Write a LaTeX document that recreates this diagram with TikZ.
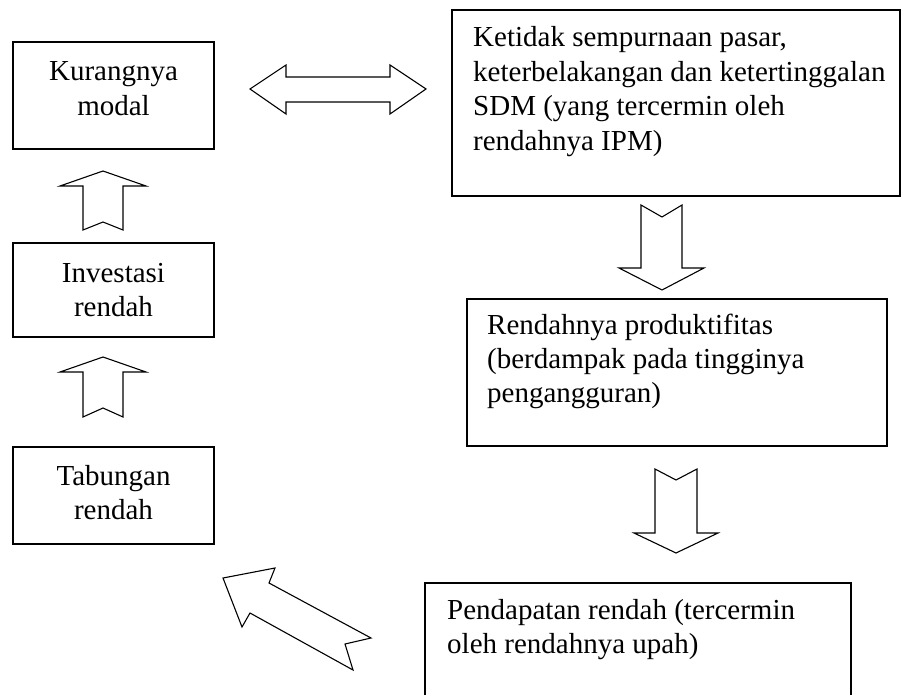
\documentclass[tikz,border=0pt]{standalone}
\usepackage{fontspec}
\setmainfont{Liberation Serif}
\begin{document}
\begin{tikzpicture}[x=1pt,y=-1pt,
  box/.style={draw,line width=1.1pt,inner sep=0pt},
  txt/.style={font=\fontsize{29}{34.4}\selectfont,inner sep=0pt,align=left,anchor=base west},
  ctxt/.style={font=\fontsize{29}{34.4}\selectfont,inner sep=0pt,align=center,anchor=base},
  blockarrow/.style={draw,line width=1.1pt,fill=white,line join=miter}]
\clip (0,0) rectangle (901,695);
\fill[white] (0,0) rectangle (901,695);
% boxes
\node[box,minimum width=201pt,minimum height=107pt] (kur) at (113.5,95.5) {};
\node[box,minimum width=201pt,minimum height=94pt] (inv) at (113.5,290) {};
\node[box,minimum width=201pt,minimum height=97pt] (tab) at (113.5,495.5) {};
\node[box,minimum width=448pt,minimum height=186pt] (ket) at (676,103) {};
\node[box,minimum width=420pt,minimum height=147pt] (ren) at (677,372.5) {};
\node[box,minimum width=426pt,minimum height=160pt] (pen) at (638,663) {};
% texts (anchor = baseline of the last line)
\node[ctxt] (kurt) at (113.5,115.4) {Kurangnya\\modal};
\node[ctxt] (invt) at (113.5,316.4) {Investasi\\rendah};
\node[ctxt] (tabt) at (113.5,519.4) {Tabungan\\rendah};
\node[txt] (kett) at (473,150.2) {Ketidak sempurnaan pasar,\\keterbelakangan dan ketertinggalan\\SDM (yang tercermin oleh\\rendahnya IPM)};
\node[txt] (rent) at (487,402.8) {Rendahnya produktifitas\\(berdampak pada tingginya\\pengangguran)};
\node[txt] (pent) at (447,653.4) {Pendapatan rendah (tercermin\\oleh rendahnya upah)};
% double arrow between kur and ket
\draw[blockarrow] (250,89) -- (286,65) -- (286,77) -- (390,77) -- (390,65) -- (426,89)
  -- (390,114) -- (390,102) -- (286,102) -- (286,114) -- cycle;
% up arrow inv -> kur
\draw[blockarrow] (103,171) -- (146,186) -- (123,186) -- (123,230) -- (103,222)
  -- (83,230) -- (83,186) -- (60,186) -- cycle;
% up arrow tab -> inv
\draw[blockarrow] (103,357) -- (146,372) -- (123,372) -- (123,417) -- (103,408)
  -- (83,417) -- (83,372) -- (60,372) -- cycle;
% down arrow ket -> ren
\draw[blockarrow] (641,205) -- (662,217) -- (682,205) -- (682,268) -- (704,268)
  -- (662,290) -- (619,268) -- (641,268) -- cycle;
% down arrow ren -> pen
\draw[blockarrow] (655,469) -- (676,480) -- (697,469) -- (697,533) -- (718,533)
  -- (676,553) -- (634,533) -- (655,533) -- cycle;
% diagonal arrow pen -> tab
\draw[blockarrow] (223,578) -- (275,568) -- (269,583) -- (371,638) -- (345,644)
  -- (353,670) -- (250,613) -- (242,627) -- cycle;
\end{tikzpicture}
\end{document}
